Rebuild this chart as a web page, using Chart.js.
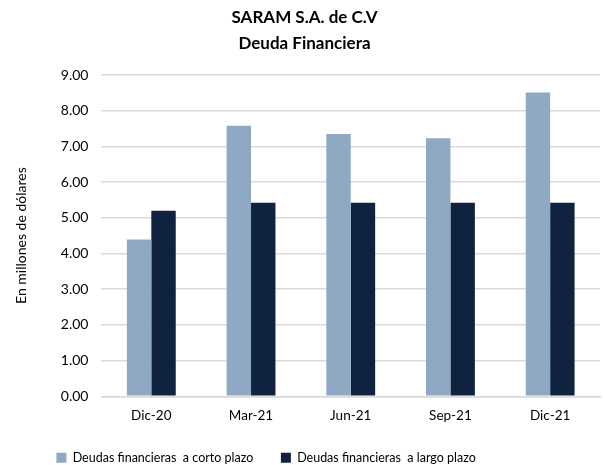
<!DOCTYPE html>
<html>
<head>
<meta charset="utf-8">
<script src="https://cdn.jsdelivr.net/npm/chart.js@4"></script>
<style>
  html, body { margin: 0; padding: 0; background: #fff; }
  #wrap { width: 604px; height: 465px; }
</style>
</head>
<body>
<div id="wrap"><canvas id="deuda"></canvas></div>
<script>
// datos
const periodos = ["Dic-20", "Mar-21", "Jun-21", "Sep-21", "Dic-21"];
const cortoPlazo = [4.39, 7.58, 7.35, 7.23, 8.51];
const largoPlazo = [5.20, 5.42, 5.42, 5.42, 5.42];
const tituloLineas = ["SARAM S.A. de C.V", "Deuda Financiera"];

const fuente = "Lato, 'Open Sans', sans-serif";
const nbsp = n => "\u00a0".repeat(n);

// baja la leyenda hasta el borde inferior (chart.js deja 10px fijos debajo)
const bajarLeyenda = {
  id: "bajarLeyenda",
  afterLayout(chart) {
    chart.legend.top += 9;
    chart.legend.bottom += 9;
  }
};

new Chart(document.getElementById("deuda"), {
  type: "bar",
  data: {
    labels: periodos,
    datasets: [
      {
        label: "Deudas financieras  a corto plazo",
        backgroundColor: "#8FA9C4",
        data: cortoPlazo
      },
      {
        label: "Deudas financieras  a largo plazo",
        backgroundColor: "#0F2341",
        data: largoPlazo
      }
    ]
  },
  plugins: [bajarLeyenda],
  options: {
    responsive: true,
    maintainAspectRatio: false,
    animation: false,
    layout: { padding: { left: 9, right: 4, top: 5, bottom: 0 } },
    datasets: { bar: { barPercentage: 1, categoryPercentage: 0.49 } },
    plugins: {
      title: {
        display: true,
        text: tituloLineas,
        color: "#000",
        font: { family: fuente, size: 17, weight: "bold", lineHeight: 1.5 },
        padding: { top: 0, bottom: 19 }
      },
      legend: {
        position: "bottom",
        labels: {
          color: "#000",
          boxWidth: 10,
          boxHeight: 10,
          padding: 2,
          font: { family: fuente, size: 12.5 },
          // espacios al final para separar los items como en el original
          generateLabels: chart => {
            const items = Chart.defaults.plugins.legend.labels.generateLabels(chart);
            items[0].text += nbsp(8);
            items[1].text += nbsp(24);
            return items;
          }
        }
      },
      tooltip: { enabled: false }
    },
    scales: {
      x: {
        grid: { display: false },
        border: { color: "#d9d9d9", width: 1.5 },
        ticks: { color: "#000", font: { family: fuente, size: 13.5 }, padding: 3 },
        afterFit: s => { s.height += 14; }
      },
      y: {
        min: 0,
        max: 9,
        ticks: {
          stepSize: 1,
          color: "#000",
          padding: 13,
          font: { family: fuente, size: 14 },
          callback: v => v.toFixed(2)
        },
        grid: { color: "#d9d9d9", lineWidth: 1.5, drawTicks: false },
        border: { display: false },
        title: {
          display: true,
          text: "En millones de dólares",
          color: "#000",
          font: { family: fuente, size: 14 },
          padding: { bottom: 18 }
        }
      }
    }
  }
});
</script>
</body>
</html>
